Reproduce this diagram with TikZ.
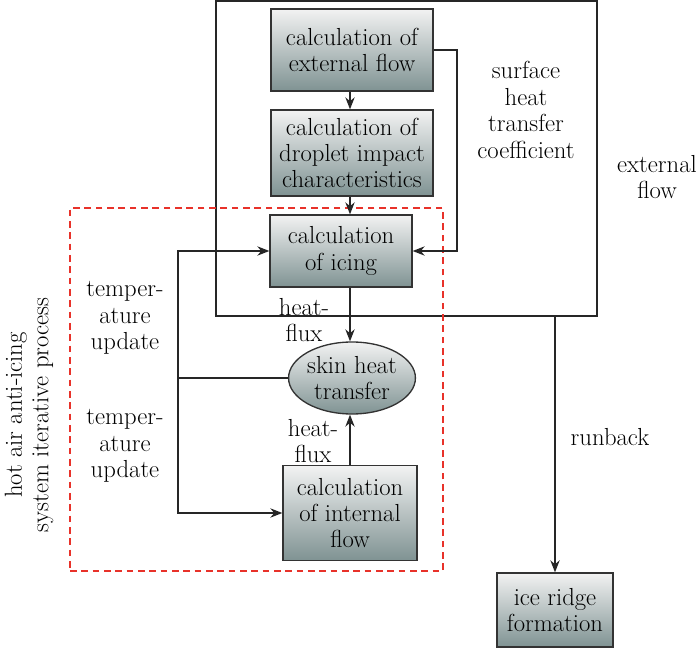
\documentclass[tikz,border=0pt]{standalone}
\usetikzlibrary{arrows.meta,shapes.geometric}
\begin{document}
\begin{tikzpicture}[x=0.75pt,y=-0.75pt,
  txt/.style={font=\fontsize{18.5}{19.8}\selectfont, align=center, inner sep=0pt},
  proc/.style={draw=black!80, line width=1pt, top color=gray!10, bottom color=gray!55!teal!40!gray!85, txt},
  conn/.style={line width=1.1pt, black!85},
  arr/.style={conn, -{Stealth[length=9pt,width=7pt]}},
  frame/.style={draw=black!85, line width=1.1pt, inner sep=0pt},
  iterbox/.style={draw={rgb,255:red,232;green,50;blue,42}, line width=1pt, dash pattern=on 5pt off 3.5pt, inner sep=0pt}]
\useasboundingbox (0,0) rectangle (700,648);
% frames
\node[frame, minimum width=381*0.75pt, minimum height=315*0.75pt] (outer) at (406.5,158.5) {};
\node[iterbox, minimum width=373*0.75pt, minimum height=363*0.75pt] (iter) at (256.5,389.5) {};
% process nodes
\node[proc, minimum width=162*0.75pt, minimum height=82*0.75pt] (b1) at (352,50) {calculation of\\external flow};
\node[proc, minimum width=162*0.75pt, minimum height=86*0.75pt] (b2) at (352,153) {calculation of\\droplet impact\\characteristics};
\node[proc, minimum width=142*0.75pt, minimum height=72*0.75pt] (b3) at (341,251) {calculation\\of icing};
\node[proc, ellipse, minimum width=114*0.75pt, minimum height=72*0.75pt, inner sep=0pt] (ell) at (352,378) {skin heat\\transfer};
\node[proc, minimum width=134*0.75pt, minimum height=95*0.75pt] (bi) at (350,513) {calculation\\of internal\\flow};
\node[proc, minimum width=116*0.75pt, minimum height=74*0.75pt] (ice) at (555,610) {ice ridge\\formation};
% labels
\node[txt] (lsurf) at (526,110) {surface\\heat\\transfer\\coefficient};
\node[txt] (lext) at (657,177) {external\\flow};
\node[txt] (lhf1) at (304,320) {heat-\\flux};
\node[txt] (lhf2) at (313,441) {heat-\\flux};
\node[txt] (ltu1) at (125,318) {temper-\\ature\\update};
\node[txt] (ltu2) at (125,446) {temper-\\ature\\update};
\node[txt] (lrun) at (610,437) {runback};
\node[txt, rotate=90] (lsys) at (29,415) {hot air anti-icing\\system iterative process};
% coordinates
\coordinate (ax) at (350,0);
\coordinate (rx) at (457,251);
\coordinate (lx) at (178,378);
% connectors
\draw[arr] (b1.south -| ax) -- (b2.north -| ax);
\draw[arr] (b2.south -| ax) -- (b3.north -| ax);
\draw[arr] (b1.east) -| (rx) -- (b3.east);
\draw[arr] (b3.south -| ax) -- (ell.north -| ax);
\draw[arr] (bi.north -| ax) -- (ell.south -| ax);
\draw[conn] (ell.west) -- (lx);
\draw[arr] (lx) |- (b3.west);
\draw[arr] (lx) |- (bi.west);
\draw[arr] (outer.south -| ice.north) -- (ice.north);
\end{tikzpicture}
\end{document}
